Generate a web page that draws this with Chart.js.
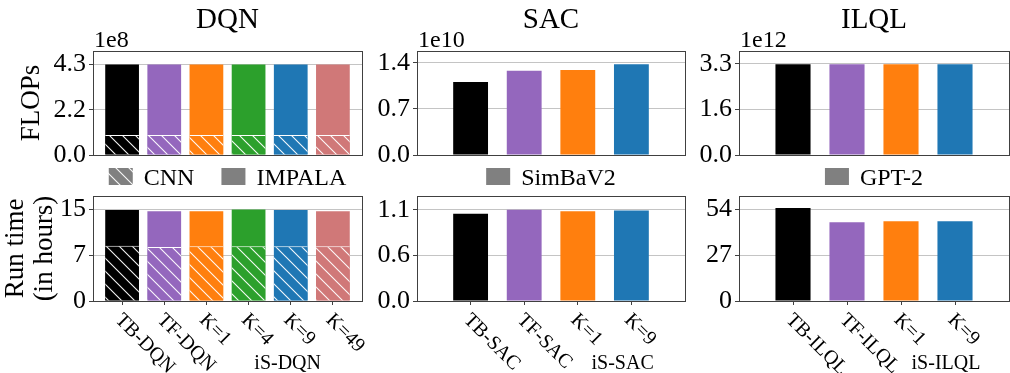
<!DOCTYPE html>
<html>
<head>
<meta charset="utf-8">
<script src="https://cdn.jsdelivr.net/npm/chart.js@4.4.1/dist/chart.umd.min.js"></script>
<style>
  body { margin: 0; background: #fff; }
  #wrap { position: relative; width: 1010px; height: 373px; overflow: hidden; }
  #wrap canvas { position: absolute; }
</style>
</head>
<body>
<div id="wrap">
  <canvas id="dqn-flops"></canvas>
  <canvas id="sac-flops"></canvas>
  <canvas id="ilql-flops"></canvas>
  <canvas id="dqn-time"></canvas>
  <canvas id="sac-time"></canvas>
  <canvas id="ilql-time"></canvas>
</div>
<script>
// ---- data ----
const algoTitles = ["DQN", "SAC", "ILQL"];
const groupLabels = ["iS-DQN", "iS-SAC", "iS-ILQL"];
const flopsExponent = ["1e8", "1e10", "1e12"];

const dqnCats = ["TB-DQN", "TF-DQN", "K=1", "K=4", "K=9", "K=49"];
const sacCats = ["TB-SAC", "TF-SAC", "K=1", "K=9"];
const ilqlCats = ["TB-ILQL", "TF-ILQL", "K=1", "K=9"];

// FLOPs, in units of flopsExponent
const dqnFlopsImpala = [4.3, 4.3, 4.3, 4.3, 4.3, 4.3];
const dqnFlopsCnn = [0.95, 0.95, 0.95, 0.95, 0.95, 0.95];
const sacFlops = [1.11, 1.28, 1.29, 1.38];
const ilqlFlops = [3.28, 3.28, 3.28, 3.28];

// run time in hours
const dqnTimeImpala = [14.8, 14.6, 14.6, 14.9, 14.8, 14.6];
const dqnTimeCnn = [9.0, 8.8, 8.9, 8.9, 8.9, 8.9];
const sacTime = [1.05, 1.10, 1.08, 1.09];
const ilqlTime = [54.6, 46.3, 46.9, 46.9];

// y ticks
const dqnFlopsTicks = [0, 2.15, 4.3];
const dqnFlopsTickLabels = ["0.0", "2.2", "4.3"];
const sacFlopsTicks = [0, 0.7, 1.4];
const sacFlopsTickLabels = ["0.0", "0.7", "1.4"];
const ilqlFlopsTicks = [0, 1.65, 3.3];
const ilqlFlopsTickLabels = ["0.0", "1.6", "3.3"];
const dqnTimeTicks = [0, 7.45, 14.9];
const dqnTimeTickLabels = ["0", "7", "15"];
const sacTimeTicks = [0, 0.55, 1.1];
const sacTimeTickLabels = ["0.0", "0.6", "1.1"];
const ilqlTimeTicks = [0, 27, 54];
const ilqlTimeTickLabels = ["0", "27", "54"];

const flopsMax = [4.94, 1.58, 3.76];
const timeMax = [17.1, 1.265, 61.7];

// ---- style ----
const SERIF = '"Liberation Serif", "Times New Roman", serif';
const dqnColors = ["#000000", "#9467bd", "#ff7f0e", "#2ca02c", "#1f77b4", "#d07878"];
const fourColors = ["#000000", "#9467bd", "#ff7f0e", "#1f77b4"];
const legendGray = "#808080";
const frameColor = "#404040";

const cols = [
  { left: 0, width: 368, axisW: 93, padR: 6 },
  { left: 368, width: 324, axisW: 49, padR: 7 },
  { left: 692, width: 318, axisW: 47, padR: 1 },
];
const rows = [
  { top: 0, height: 192, padT: 51, padB: 37 },
  { top: 192, height: 181, padT: 4, padB: 72 },
];

function hatch(ctx, color) {
  const n = 13;
  const c = document.createElement("canvas");
  c.width = c.height = n;
  const g = c.getContext("2d");
  g.fillStyle = color;
  g.fillRect(0, 0, n, n);
  g.strokeStyle = "rgba(255,255,255,0.95)";
  g.lineWidth = 1.1;
  g.beginPath();
  g.moveTo(-1, -1); g.lineTo(n + 1, n + 1);
  g.moveTo(-1, n - 1); g.lineTo(1, n + 1);
  g.moveTo(n - 1, -1); g.lineTo(n + 1, 1);
  g.stroke();
  return ctx.createPattern(c, "repeat");
}

const pts = (vals) => vals.map((y, x) => ({ x, y }));

// frame, titles, legend, rotated category labels
const decor = {
  id: "decor",
  afterDatasetsDraw(chart) {
    const { ctx, chartArea: a } = chart;
    ctx.save();
    ctx.strokeStyle = frameColor;
    ctx.lineWidth = 1;
    ctx.strokeRect(a.left + 0.5, a.top + 0.5, a.right - a.left, a.bottom - a.top);
    ctx.restore();
  },
  afterDraw(chart, args, o) {
    const { ctx, chartArea: a } = chart;
    const cx = (a.left + a.right) / 2;
    ctx.save();
    ctx.fillStyle = "#000";
    if (o.title) {
      ctx.font = "29px " + SERIF;
      ctx.textAlign = "center";
      ctx.textBaseline = "alphabetic";
      ctx.fillText(o.title, cx, 28);
    }
    if (o.exponent) {
      ctx.font = "24px " + SERIF;
      ctx.textAlign = "left";
      ctx.textBaseline = "alphabetic";
      ctx.fillText(o.exponent, a.left + 1, a.top - 4);
    }
    if (o.ylabel) {
      ctx.font = "27px " + SERIF;
      ctx.textAlign = "center";
      ctx.textBaseline = "middle";
      const cy = (a.top + a.bottom) / 2;
      o.ylabel.forEach((line, i) => {
        ctx.save();
        ctx.translate(o.ylabelX[i], cy);
        ctx.rotate(-Math.PI / 2);
        ctx.fillText(line, 0, 0);
        ctx.restore();
      });
    }
    if (o.legend) {
      ctx.font = "24px " + SERIF;
      ctx.textBaseline = "alphabetic";
      ctx.textAlign = "left";
      const sw = 24, gap = 11, between = 27;
      const widths = o.legend.map((it) => sw + gap + ctx.measureText(it.text).width);
      const total = widths.reduce((s, w) => s + w, 0) + between * (widths.length - 1);
      let x = cx - total / 2;
      o.legend.forEach((it, i) => {
        ctx.fillStyle = it.hatched ? hatch(ctx, legendGray) : legendGray;
        ctx.fillRect(x, 168, sw, 17);
        ctx.fillStyle = "#000";
        ctx.fillText(it.text, x + sw + gap, 185);
        x += widths[i] + between;
      });
    }
    if (o.xlabels) {
      const xs = chart.scales.x;
      ctx.font = "20px " + SERIF;
      ctx.textAlign = "left";
      ctx.textBaseline = "middle";
      o.xlabels.forEach((lab, i) => {
        ctx.save();
        ctx.translate(xs.getPixelForValue(i) - 4, a.bottom + 16);
        ctx.rotate(Math.PI / 4);
        ctx.fillText(lab, 0, 0);
        ctx.restore();
      });
      // group label under the K=… bars
      const ks = o.xlabels.map((l, i) => i).filter((i) => o.xlabels[i].startsWith("K="));
      const mid = ks.reduce((s, i) => s + xs.getPixelForValue(i), 0) / ks.length;
      ctx.textAlign = "center";
      ctx.textBaseline = "alphabetic";
      ctx.fillText(o.group, mid + 18, a.bottom + 68);
    }
    ctx.restore();
  },
};

function panel(id, col, row, cfg) {
  const el = document.getElementById(id);
  const c = cols[col], r = rows[row];
  el.width = c.width;
  el.height = r.height;
  el.style.left = c.left + "px";
  el.style.top = r.top + "px";
  const ctx = el.getContext("2d");
  const n = cfg.cats.length;
  const colors = n === 6 ? dqnColors : fourColors;
  const bw = n === 6 ? 0.8 : 0.65;
  const common = { grouped: false, categoryPercentage: 1, barPercentage: bw, borderWidth: 0 };

  const datasets = [];
  if (cfg.hatched) {
    datasets.push({
      ...common,
      label: "CNN",
      data: pts(cfg.hatched),
      order: 1,
      backgroundColor: colors.map((col) => hatch(ctx, col)),
      borderColor: "#ffffff",
      borderWidth: { top: 1, left: 0, right: 0, bottom: 0 },
    });
  }
  datasets.push({ ...common, label: cfg.solidLabel, data: pts(cfg.values), order: 2, backgroundColor: colors });

  return new Chart(ctx, {
    type: "bar",
    data: { datasets },
    plugins: [decor],
    options: {
      responsive: false,
      animation: false,
      devicePixelRatio: 1,
      layout: { padding: { left: 0, top: r.padT, right: c.padR, bottom: r.padB } },
      scales: {
        x: {
          type: "linear",
          offset: false,
          min: n === 6 ? -0.69 : -1,
          max: n === 6 ? n - 1 + 0.69 : n,
          afterBuildTicks: (s) => { s.ticks = cfg.cats.map((_, i) => ({ value: i })); },
          afterFit: (s) => {
            s.height = 0;
            s.paddingLeft = s.paddingRight = 0;
          },
          ticks: { display: false },
          border: { display: false },
          grid: {
            display: row === 1,
            offset: false,
            drawOnChartArea: false,
            drawTicks: true,
            tickLength: 4,
            tickColor: frameColor,
          },
        },
        y: {
          min: 0,
          max: cfg.max,
          afterBuildTicks: (s) => { s.ticks = cfg.ticks.map((v) => ({ value: v })); },
          afterFit: (s) => {
            s.width = c.axisW;
            s.paddingTop = s.paddingBottom = 0;
          },
          border: { display: false },
          grid: { color: "#c4c4c4", lineWidth: 1, tickLength: 4, tickColor: frameColor },
          ticks: {
            padding: 3,
            color: "#000",
            font: { family: SERIF, size: 26 },
            callback: (v, i) => cfg.tickLabels[i],
          },
        },
      },
      plugins: {
        legend: { display: false },
        tooltip: { enabled: false },
        decor: cfg.decor,
      },
    },
  });
}

const legends = [
  [{ text: "CNN", hatched: true }, { text: "IMPALA" }],
  [{ text: "SimBaV2" }],
  [{ text: "GPT-2" }],
];

panel("dqn-flops", 0, 0, {
  cats: dqnCats, values: dqnFlopsImpala, hatched: dqnFlopsCnn, solidLabel: "IMPALA",
  max: flopsMax[0], ticks: dqnFlopsTicks, tickLabels: dqnFlopsTickLabels,
  decor: { title: algoTitles[0], exponent: flopsExponent[0], legend: legends[0], ylabel: ["FLOPs"], ylabelX: [32] },
});
panel("sac-flops", 1, 0, {
  cats: sacCats, values: sacFlops, solidLabel: "SimBaV2",
  max: flopsMax[1], ticks: sacFlopsTicks, tickLabels: sacFlopsTickLabels,
  decor: { title: algoTitles[1], exponent: flopsExponent[1], legend: legends[1] },
});
panel("ilql-flops", 2, 0, {
  cats: ilqlCats, values: ilqlFlops, solidLabel: "GPT-2",
  max: flopsMax[2], ticks: ilqlFlopsTicks, tickLabels: ilqlFlopsTickLabels,
  decor: { title: algoTitles[2], exponent: flopsExponent[2], legend: legends[2] },
});
panel("dqn-time", 0, 1, {
  cats: dqnCats, values: dqnTimeImpala, hatched: dqnTimeCnn, solidLabel: "IMPALA",
  max: timeMax[0], ticks: dqnTimeTicks, tickLabels: dqnTimeTickLabels,
  decor: { xlabels: dqnCats, group: groupLabels[0], ylabel: ["Run time", "(in hours)"], ylabelX: [16, 45] },
});
panel("sac-time", 1, 1, {
  cats: sacCats, values: sacTime, solidLabel: "SimBaV2",
  max: timeMax[1], ticks: sacTimeTicks, tickLabels: sacTimeTickLabels,
  decor: { xlabels: sacCats, group: groupLabels[1] },
});
panel("ilql-time", 2, 1, {
  cats: ilqlCats, values: ilqlTime, solidLabel: "GPT-2",
  max: timeMax[2], ticks: ilqlTimeTicks, tickLabels: ilqlTimeTickLabels,
  decor: { xlabels: ilqlCats, group: groupLabels[2] },
});
</script>
</body>
</html>
